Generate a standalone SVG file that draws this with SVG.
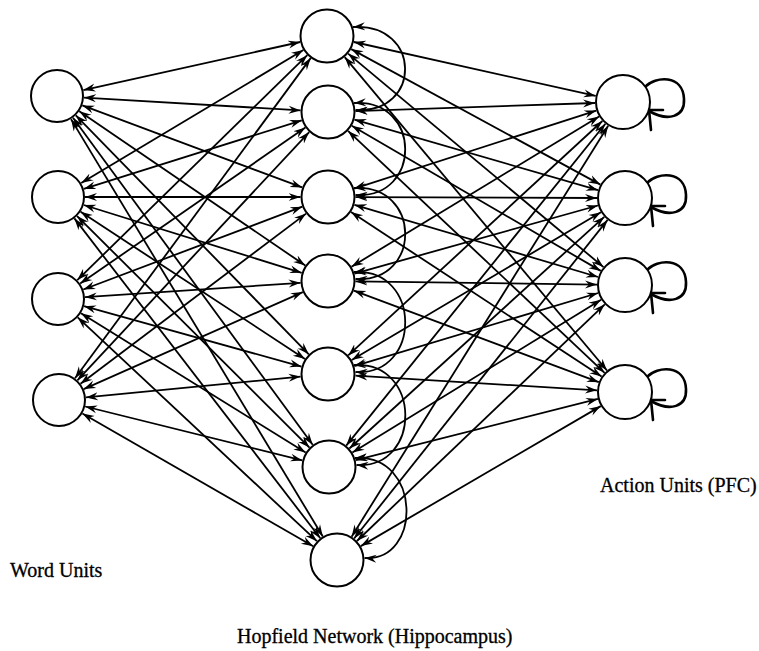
<svg xmlns="http://www.w3.org/2000/svg" xmlns:xlink="http://www.w3.org/1999/xlink" width="759" height="651" viewBox="0 0 759 651">
<style>
.node{fill:#fff;stroke:#000;stroke-width:2}
.c line,.c path{fill:none;stroke:#000;stroke-width:1.8;marker-start:url(#ah);marker-end:url(#ah)}
.lp{fill:none;stroke:#000;stroke-width:2.6;stroke-linecap:round;stroke-linejoin:round}
.lbl{font-family:"Liberation Serif","Times New Roman",serif;font-size:20px;fill:#000;stroke:#000;stroke-width:0.3}
</style>
<defs>
<marker id="ah" viewBox="0 -5 14 10" markerWidth="14" markerHeight="10" refX="12" refY="0" orient="auto-start-reverse" markerUnits="userSpaceOnUse">
<path d="M0,-4 L12,0 L0,4 L4,0 z" fill="#000"/>
</marker>
<g id="selfloop">
<path class="lp" d="M22,-15 C32,-26 60,-28 61,-3 C62,15 45,20 26,9"/>
<path class="lp" d="M40,8 L26,8 L28,28"/>
</g>
</defs>
<rect width="759" height="651" fill="#fff"/>
<g id="connectors" class="c">
<!-- word units to hopfield -->
<line x1="83.4" y1="90.1" x2="300.2" y2="42.0"/>
<line x1="84.0" y1="97.6" x2="300.6" y2="110.4"/>
<line x1="82.3" y1="105.4" x2="302.2" y2="187.4"/>
<line x1="79.3" y1="111.2" x2="305.3" y2="265.5"/>
<line x1="75.8" y1="115.3" x2="308.8" y2="354.3"/>
<line x1="73.0" y1="117.8" x2="312.7" y2="444.8"/>
<line x1="71.0" y1="119.1" x2="322.8" y2="536.5"/>
<line x1="81.2" y1="183.1" x2="303.4" y2="50.1"/>
<line x1="83.8" y1="188.9" x2="301.8" y2="120.3"/>
<line x1="85.0" y1="197.0" x2="300.5" y2="197.0"/>
<line x1="83.8" y1="205.0" x2="301.7" y2="272.8"/>
<line x1="80.6" y1="211.8" x2="305.0" y2="358.9"/>
<line x1="77.1" y1="216.1" x2="309.5" y2="447.6"/>
<line x1="74.4" y1="218.4" x2="320.3" y2="538.2"/>
<line x1="77.3" y1="280.1" x2="307.3" y2="55.2"/>
<line x1="80.2" y1="283.6" x2="305.4" y2="127.6"/>
<line x1="83.3" y1="289.5" x2="302.3" y2="206.7"/>
<line x1="84.9" y1="297.2" x2="300.6" y2="282.8"/>
<line x1="84.0" y1="306.2" x2="301.5" y2="366.6"/>
<line x1="81.0" y1="313.2" x2="305.6" y2="452.5"/>
<line x1="77.7" y1="317.4" x2="316.9" y2="541.2"/>
<line x1="75.0" y1="378.3" x2="310.7" y2="58.1"/>
<line x1="77.4" y1="380.3" x2="309.2" y2="132.1"/>
<line x1="80.5" y1="383.7" x2="306.1" y2="213.6"/>
<line x1="83.7" y1="389.1" x2="302.8" y2="292.1"/>
<line x1="85.9" y1="397.4" x2="300.6" y2="376.6"/>
<line x1="85.2" y1="406.5" x2="302.3" y2="460.4"/>
<line x1="82.4" y1="413.5" x2="313.2" y2="546.3"/>
<!-- hopfield to action units -->
<line x1="353.8" y1="42.0" x2="595.7" y2="95.9"/>
<line x1="355.5" y1="111.1" x2="595.0" y2="103.0"/>
<line x1="354.2" y1="188.6" x2="596.3" y2="110.6"/>
<line x1="351.5" y1="266.7" x2="599.1" y2="116.5"/>
<line x1="348.2" y1="355.4" x2="602.4" y2="121.0"/>
<line x1="346.2" y1="445.6" x2="605.4" y2="123.8"/>
<line x1="351.6" y1="536.7" x2="608.2" y2="125.7"/>
<line x1="351.2" y1="49.1" x2="600.4" y2="184.6"/>
<line x1="354.4" y1="119.6" x2="598.1" y2="190.2"/>
<line x1="355.5" y1="197.1" x2="597.0" y2="198.0"/>
<line x1="354.5" y1="273.6" x2="598.0" y2="205.5"/>
<line x1="351.7" y1="360.0" x2="600.9" y2="212.3"/>
<line x1="349.4" y1="448.5" x2="604.3" y2="216.8"/>
<line x1="354.1" y1="538.5" x2="607.6" y2="219.9"/>
<line x1="348.1" y1="53.6" x2="603.5" y2="267.1"/>
<line x1="351.8" y1="125.8" x2="600.8" y2="270.9"/>
<line x1="354.4" y1="204.8" x2="598.1" y2="277.0"/>
<line x1="355.5" y1="281.4" x2="597.0" y2="284.6"/>
<line x1="354.3" y1="366.1" x2="598.2" y2="293.0"/>
<line x1="352.4" y1="452.6" x2="601.1" y2="299.7"/>
<line x1="356.9" y1="541.0" x2="604.8" y2="304.3"/>
<line x1="344.7" y1="57.1" x2="607.0" y2="370.5"/>
<line x1="348.0" y1="130.9" x2="604.6" y2="372.8"/>
<line x1="351.0" y1="212.1" x2="601.6" y2="376.6"/>
<line x1="353.8" y1="290.6" x2="598.8" y2="382.2"/>
<line x1="355.5" y1="375.7" x2="597.1" y2="390.3"/>
<line x1="355.6" y1="460.2" x2="597.9" y2="398.9"/>
<line x1="360.8" y1="546.1" x2="600.8" y2="406.1"/>
<!-- hopfield recurrent arcs -->
<path d="M353,27 C422,23 422,114 355.5,110"/>
<path d="M354,103 C422,99 422,199 355.5,195"/>
<path d="M354,188 C422,184 422,283 355.5,279"/>
<path d="M354,272 C422,268 422,376 355.5,372"/>
<path d="M354,365 C422,361 422,469 356.5,465"/>
<path d="M355,458 C422,454 422,562 364.5,558"/>
<!-- action unit self loops -->
<use xlink:href="#selfloop" x="623" y="102"/>
<use xlink:href="#selfloop" x="625" y="198"/>
<use xlink:href="#selfloop" x="625" y="285"/>
<use xlink:href="#selfloop" x="625" y="392"/>
</g>
<g id="word1"><circle class="node" cx="57" cy="96" r="26"/></g>
<g id="word2"><circle class="node" cx="58" cy="197" r="26"/></g>
<g id="word3"><circle class="node" cx="58" cy="299" r="26"/></g>
<g id="word4"><circle class="node" cx="59" cy="400" r="26"/></g>
<g id="hop1"><circle class="node" cx="327" cy="36" r="26.5"/></g>
<g id="hop2"><circle class="node" cx="328" cy="112" r="26.5"/></g>
<g id="hop3"><circle class="node" cx="328" cy="197" r="26.5"/></g>
<g id="hop4"><circle class="node" cx="328" cy="281" r="26.5"/></g>
<g id="hop5"><circle class="node" cx="328" cy="374" r="26.5"/></g>
<g id="hop6"><circle class="node" cx="329" cy="467" r="26.5"/></g>
<g id="hop7"><circle class="node" cx="337" cy="560" r="26.5"/></g>
<g id="act1"><circle class="node" cx="623" cy="102" r="27"/></g>
<g id="act2"><circle class="node" cx="625" cy="198" r="27"/></g>
<g id="act3"><circle class="node" cx="625" cy="285" r="27"/></g>
<g id="act4"><circle class="node" cx="625" cy="392" r="27"/></g>
<g id="labels">
<text class="lbl" x="10" y="577">Word Units</text>
<text class="lbl" x="237" y="643">Hopfield Network (Hippocampus)</text>
<text class="lbl" x="600" y="492">Action Units (PFC)</text>
</g>
</svg>
